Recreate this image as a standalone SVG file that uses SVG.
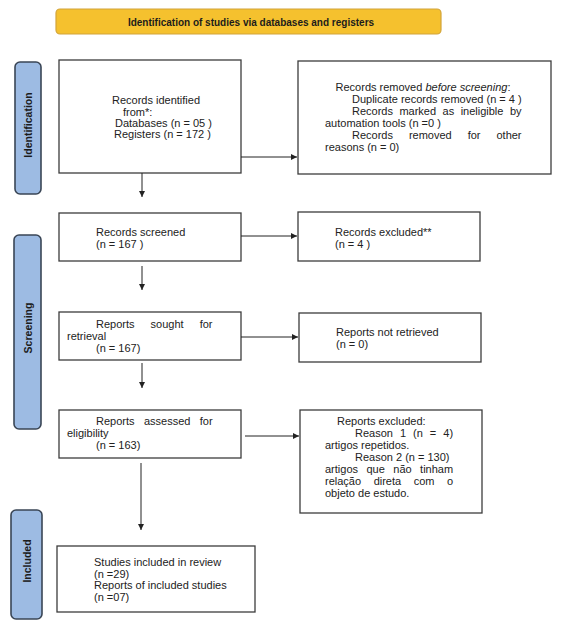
<svg xmlns="http://www.w3.org/2000/svg" width="568" height="635" viewBox="0 0 568 635">
<style>
text{font-family:"Liberation Sans",Arial,sans-serif;font-size:11px;fill:#222}
.box{fill:#fff;stroke:#3c3c3c;stroke-width:1.3}
.side{fill:#9dbbe3;stroke:#3a4656;stroke-width:1.6}
.sidet{font-weight:bold;font-size:10.5px;fill:#1c1c1c}
.ban{fill:#f5c12e;stroke:#d2a43a;stroke-width:1.2}
.bant{font-weight:bold;font-size:10px;fill:#1c1c1c}
.c{stroke:#222;stroke-width:1;fill:none;marker-end:url(#ah)}
</style>
<defs>
<marker id="ah" markerWidth="6" markerHeight="6" refX="6" refY="3" orient="auto" markerUnits="userSpaceOnUse">
<path d="M0,0 L6,3 L0,6 z" fill="#222"/>
</marker>
</defs>
<rect width="568" height="635" fill="#fff"/>
<g id="banner">
<rect class="ban" x="56" y="9" width="385" height="25" rx="4"/>
<text class="bant" x="251" y="26" text-anchor="middle">Identification of studies via databases and registers</text>
</g>
<g id="side-identification">
<rect class="side" x="15" y="62" width="26" height="132" rx="5"/>
<text class="sidet" transform="translate(32,125) rotate(-90)" text-anchor="middle">Identification</text>
</g>
<g id="side-screening">
<rect class="side" x="14" y="235" width="27" height="194" rx="5"/>
<text class="sidet" transform="translate(31.5,328) rotate(-90)" text-anchor="middle">Screening</text>
</g>
<g id="side-included">
<rect class="side" x="11" y="510" width="31" height="109" rx="5"/>
<text class="sidet" transform="translate(30.5,561) rotate(-90)" text-anchor="middle">Included</text>
</g>
<g id="records-identified">
<rect class="box" x="59" y="60" width="182" height="113"/>
<text x="112" y="104">Records identified</text>
<text x="123" y="115.5">from*:</text>
<text x="115" y="126.5">Databases (n = 05 )</text>
<text x="114" y="137.5">Registers (n = 172 )</text>
</g>
<g id="records-removed">
<rect class="box" x="298" y="61" width="253" height="113"/>
<text x="423" y="91.3" text-anchor="middle">Records removed <tspan font-style="italic">before screening</tspan>:</text>
<text x="352" y="103.3">Duplicate records removed (n = 4 )</text>
<text x="352" y="115.3" word-spacing="3.4">Records marked as ineligible by</text>
<text x="325" y="127.3">automation tools (n =0 )</text>
<text x="352" y="139.3" word-spacing="12.9">Records removed for other</text>
<text x="325" y="151.3">reasons (n = 0)</text>
</g>
<g id="records-screened">
<rect class="box" x="59" y="213" width="182" height="48"/>
<text x="96" y="236">Records screened</text>
<text x="96" y="248">(n = 167 )</text>
</g>
<g id="records-excluded">
<rect class="box" x="298" y="212" width="182" height="49"/>
<text x="335" y="236">Records excluded**</text>
<text x="335" y="248">(n = 4 )</text>
</g>
<g id="reports-sought">
<rect class="box" x="59" y="312" width="182" height="48"/>
<text x="96" y="328" word-spacing="13">Reports sought for</text>
<text x="67" y="340">retrieval</text>
<text x="96" y="352">(n = 167)</text>
</g>
<g id="reports-not-retrieved">
<rect class="box" x="299" y="313" width="182" height="49"/>
<text x="336" y="336">Reports not retrieved</text>
<text x="336" y="348">(n = 0)</text>
</g>
<g id="reports-assessed">
<rect class="box" x="59" y="410" width="182" height="48"/>
<text x="96" y="425" word-spacing="6.35">Reports assessed for</text>
<text x="67" y="437">eligibility</text>
<text x="96" y="449">(n = 163)</text>
</g>
<g id="reports-excluded">
<rect class="box" x="300" y="410" width="182" height="103"/>
<text x="337" y="424.5">Reports excluded:</text>
<text x="355" y="436.5" word-spacing="3.95">Reason 1 (n = 4)</text>
<text x="325" y="448.5">artigos repetidos.</text>
<text x="355" y="460.5">Reason 2 (n = 130)</text>
<text x="325" y="472.5" word-spacing="5.4">artigos que não tinham</text>
<text x="325" y="484.5" word-spacing="9.5">relação direta com o</text>
<text x="325" y="496.5">objeto de estudo.</text>
</g>
<g id="studies-included">
<rect class="box" x="57" y="546" width="198" height="66"/>
<text x="94" y="566">Studies included in review</text>
<text x="94" y="577.7">(n =29)</text>
<text x="94" y="589.4">Reports of included studies</text>
<text x="94" y="601">(n =07)</text>
</g>
<g id="connectors">
<path class="c" d="M241,157 H297"/>
<path class="c" d="M142,173 V197"/>
<path class="c" d="M241,236 H297"/>
<path class="c" d="M142,266 V290"/>
<path class="c" d="M241,337 H298"/>
<path class="c" d="M142,363 V388"/>
<path class="c" d="M245,436 H299"/>
<path class="c" d="M141,463 V530"/>
</g>
</svg>
